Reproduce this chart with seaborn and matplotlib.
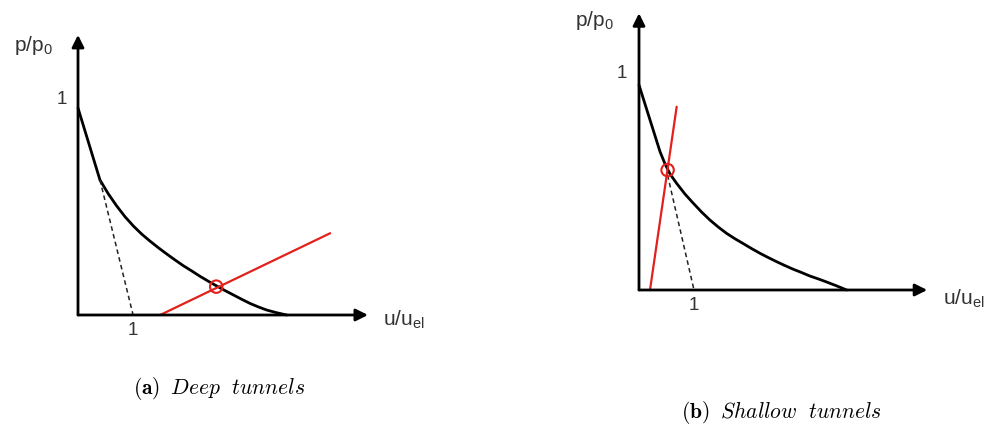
import numpy as np
import pandas as pd
import matplotlib
matplotlib.use("Agg")
import matplotlib.pyplot as plt
import seaborn as sns

# ---------------- data ----------------
# (a) deep tunnels: ground reaction curve
deep_curve_x = [0.0, 0.407, 0.562, 0.716, 0.870, 1.025, 1.179, 1.333, 1.488, 1.642,
                1.796, 1.951, 2.105, 2.259, 2.414, 2.556, 2.722, 2.877, 3.031, 3.185,
                3.340, 3.494, 3.679, 3.864]
deep_curve_y = [1.0, 0.652, 0.585, 0.527, 0.475, 0.430, 0.391, 0.357, 0.325, 0.295,
                0.266, 0.238, 0.213, 0.187, 0.163, 0.142, 0.118, 0.097, 0.076, 0.056,
                0.039, 0.024, 0.011, 0.0]
deep_elastic_x = [0.407, 1.02]
deep_elastic_y = [0.652, 0.0]
deep_support_x = [1.52, 4.67]
deep_support_y = [0.0, 0.395]
deep_eq_x = [2.56]
deep_eq_y = [0.137]

# (b) shallow tunnels
shallow_curve_x = [0.0, 0.382, 0.473, 0.564, 0.685, 0.836, 0.988, 1.139, 1.291, 1.442,
                   1.594, 1.745, 1.897, 2.048, 2.200, 2.352, 2.503, 2.655, 2.806, 2.958,
                   3.109, 3.261, 3.412, 3.594, 3.776]
shallow_curve_y = [1.0, 0.675, 0.615, 0.566, 0.520, 0.468, 0.423, 0.380, 0.341, 0.307,
                   0.276, 0.250, 0.226, 0.202, 0.179, 0.158, 0.138, 0.119, 0.101, 0.085,
                   0.068, 0.054, 0.039, 0.020, 0.0]
shallow_elastic_x = [0.52, 1.0]
shallow_elastic_y = [0.56, 0.0]
shallow_support_x = [0.2, 0.685]
shallow_support_y = [0.0, 0.894]
shallow_eq_x = [0.52]
shallow_eq_y = [0.585]

y_label = r"p/p$_\mathrm{0}$"
x_label = r"u/u$_\mathrm{el}$"
tick_label = "1"
captions = [r"$\mathbf{(a)}\;\;\mathit{Deep\ \ tunnels}$",
            r"$\mathbf{(b)}\;\;\mathit{Shallow\ \ tunnels}$"]

# ---------------- style ----------------
sns.set_theme(style="white")
plt.rcParams["font.family"] = ["Liberation Sans", "DejaVu Sans"]
plt.rcParams["mathtext.fontset"] = "custom"
plt.rcParams["mathtext.rm"] = "Liberation Sans"
plt.rcParams["mathtext.it"] = "Liberation Sans:italic"
plt.rcParams["mathtext.bf"] = "Liberation Sans:bold"

RED = "#e2201c"
TXT = "#333333"
W, H = 993, 429
fig = plt.figure(figsize=(W / 100, H / 100), dpi=100)


def make_axes(origin_px, sx, sy, xlim, ylim):
    ox, oy = origin_px
    left = ox + xlim[0] * sx
    width = (xlim[1] - xlim[0]) * sx
    bottom_px = oy - ylim[0] * sy
    height = (ylim[1] - ylim[0]) * sy
    ax = fig.add_axes([left / W, (H - bottom_px) / H, width / W, height / H])
    ax.set_xlim(*xlim)
    ax.set_ylim(*ylim)
    ax.set_axis_off()
    return ax


def draw_panel(ax, cx, cy, ex, ey, rx, ry, qx, qy, x_end, y_end, lab_pos):
    arrow = dict(arrowstyle="-|>", mutation_scale=18, lw=2.0, color="black",
                 shrinkA=0, shrinkB=0)
    ax.annotate("", xy=(x_end, 0), xytext=(0, 0), arrowprops=arrow)
    ax.annotate("", xy=(0, y_end), xytext=(0, 0), arrowprops=arrow)

    sns.lineplot(x=cx, y=cy, ax=ax, color="black", lw=2.0, sort=False,
                 estimator=None)
    sns.lineplot(x=ex, y=ey, ax=ax, color="#222222", lw=1.1, sort=False,
                 estimator=None, linestyle=(0, (3, 2.2)))
    sns.lineplot(x=rx, y=ry, ax=ax, color=RED, lw=1.6, sort=False,
                 estimator=None)
    sns.scatterplot(x=qx, y=qy, ax=ax, s=80, marker="o", facecolor="none",
                    edgecolor=RED, linewidth=1.5, zorder=5)

    (plx, ply), (y1x, y1y), (x1x, x1y), (ulx, uly) = lab_pos
    ax.text(plx, ply, y_label, ha="center", va="center", fontsize=15, color=TXT)
    ax.text(y1x, y1y, tick_label, ha="center", va="center", fontsize=13.5, color=TXT)
    ax.text(x1x, x1y, tick_label, ha="center", va="center", fontsize=13.5, color=TXT)
    ax.text(ulx, uly, x_label, ha="left", va="center", fontsize=15, color=TXT)


ax1 = make_axes((78, 315), 54, 207, (-0.5, 5.6), (-0.15, 1.45))
draw_panel(ax1, deep_curve_x, deep_curve_y, deep_elastic_x, deep_elastic_y,
           deep_support_x, deep_support_y, deep_eq_x, deep_eq_y,
           5.37, 1.353,
           [(-0.833, 1.304), (-0.296, 1.039), (1.02, -0.077), (5.65, -0.024)])

ax2 = make_axes((639, 290), 55, 205, (-0.5, 5.6), (-0.15, 1.40))
draw_panel(ax2, shallow_curve_x, shallow_curve_y, shallow_elastic_x, shallow_elastic_y,
           shallow_support_x, shallow_support_y, shallow_eq_x, shallow_eq_y,
           5.24, 1.35,
           [(-0.818, 1.317), (-0.309, 1.054), (1.0, -0.078), (5.53, -0.044)])

fig.text(219 / W, 1 - 389 / H, captions[0], ha="center", va="center",
         fontsize=15.5, color="black", math_fontfamily="cm")
fig.text(781 / W, 1 - 413 / H, captions[1], ha="center", va="center",
         fontsize=15.5, color="black", math_fontfamily="cm")

fig.savefig("out.png", dpi=100, facecolor="white")
